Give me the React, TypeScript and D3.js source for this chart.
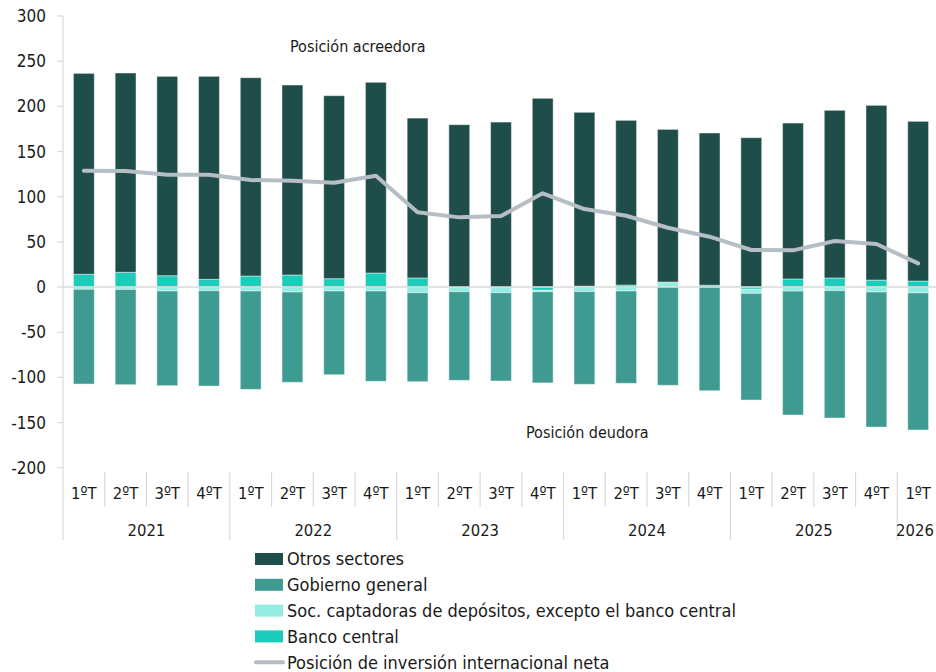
import React from "react";
import * as d3 from "d3";

const quarters = ["1ºT","2ºT","3ºT","4ºT","1ºT","2ºT","3ºT","4ºT","1ºT","2ºT","3ºT","4ºT","1ºT","2ºT","3ºT","4ºT","1ºT","2ºT","3ºT","4ºT","1ºT"];
const years = ["2021","2022","2023","2024","2025","2026"];
const yearSpans = [4, 4, 4, 4, 4, 1];

const otros = [222.4, 220.6, 220.7, 224.7, 219.5, 210.3, 202.6, 211.1, 177, 179.7, 182.6, 208.9, 192.4, 182.3, 169, 168.5, 165.3, 172.6, 185.6, 193.4, 176.8];
const gobierno = [-104.9, -105.4, -104.8, -105.5, -108.9, -100, -92.7, -100, -98.5, -98.1, -97.7, -100.9, -102.7, -102.2, -108.8, -114.8, -118.1, -137.2, -141, -149.5, -151.8];
const soc = [-2.5, -2.7, -4.4, -4.1, -4.4, -5.5, -4.4, -4.4, -6.3, -5.2, -6.3, -1.5, -5, -4.4, 5.5, 0, -4.5, -4.5, -4, -5.5, -6.5];
const banco = [14.1, 16.3, 12.5, 8.5, 12.2, 13.3, 9.2, 15.5, 10, 0, 0, -3.7, 1, 2.2, 0, 2, -2.5, 8.9, 10, 7.7, 6.6];
const piin = [128.7, 128.4, 124.3, 124.3, 118.4, 117.7, 115.5, 123.2, 82.7, 77.1, 78.6, 103.7, 86.3, 78.9, 65.6, 55.7, 41, 40.6, 50.9, 47.6, 26.2];
const yTicks = [-200, -150, -100, -50, 0, 50, 100, 150, 200, 250, 300];

const colors: Record<string, string> = {
  otros: "#1f4d4a",
  gobierno: "#3f9b91",
  soc: "#93ede3",
  banco: "#1ccbb9",
};
const lineColor = "#b5bdc5";
const legendItems = [
  { key: "otros", label: "Otros sectores" },
  { key: "gobierno", label: "Gobierno general" },
  { key: "soc", label: "Soc. captadoras de depósitos, excepto el banco central" },
  { key: "banco", label: "Banco central" },
  { key: "line", label: "Posición de inversión internacional neta" },
];

const FONT = "'Liberation Sans Narrow', 'DejaVu Sans Condensed', 'Roboto', sans-serif";

export default function App() {
  const W = 936, H = 672;
  const idx = quarters.map((_, i) => i);
  const x = d3.scaleBand<number>().domain(idx).range([63, 939]).paddingInner(0).paddingOuter(0);
  const y = d3.scaleLinear().domain([-200, 300]).range([467.7, 16]);
  const bw = x.bandwidth() * 0.5;

  const table = idx.map((i) => ({ i, banco: banco[i], soc: soc[i], gobierno: gobierno[i], otros: otros[i] }));
  const keys = ["banco", "soc", "gobierno", "otros"];
  const stacked = d3.stack<any>().keys(keys).offset(d3.stackOffsetDiverging)(table);

  const line = d3.line<number>()
    .x((i) => (x(i) as number) + x.bandwidth() / 2)
    .y((i) => y(piin[i]));

  const yearBounds: number[] = [0];
  let acc = 0;
  yearSpans.forEach((s) => { acc += s; yearBounds.push(acc); });
  const step = x.step();
  const bx = (k: number) => 63 + k * step;

  return (
    <svg width={W} height={H} style={{ position: "absolute", left: 0, top: 0, fontFamily: FONT }}>
      <rect width={W} height={H} fill="#fff" />
      <line x1={63} x2={63} y1={16} y2={540} stroke="#d9d9d9" strokeWidth={1.2} />
      {yTicks.map((t) => (
        <g key={t}>
          <line x1={57} x2={63} y1={y(t)} y2={y(t)} stroke="#d9d9d9" strokeWidth={1.2} />
          <text x={46} y={y(t)} dy="0.36em" textAnchor="end" fontSize={17} fill="#1a1a1a">{t}</text>
        </g>
      ))}
      {stacked.map((s) => (
        <g key={s.key} fill={colors[s.key]}>
          {s.map((d, i) => {
            const y0 = y(d[0]), y1 = y(d[1]);
            const h = Math.abs(y0 - y1);
            if (h < 0.01) return null;
            return (
              <rect key={i} x={(x(i) as number) + (x.bandwidth() - bw) / 2} y={Math.min(y0, y1)} width={bw} height={h}
                stroke="rgba(255,255,255,0.45)" strokeWidth={1} />
            );
          })}
        </g>
      ))}
      <line x1={63} x2={W} y1={y(0)} y2={y(0)} stroke="#d9d9d9" strokeWidth={1.5} />
      <path d={line(idx) || ""} fill="none" stroke={lineColor} strokeWidth={4} strokeLinejoin="round" strokeLinecap="round" />
      <text x={290} y={52} fontSize={16} fill="#1a1a1a">Posición acreedora</text>
      <text x={526} y={438} fontSize={16} fill="#1a1a1a">Posición deudora</text>
      {idx.map((i) => (
        <g key={i}>
          {i > 0 && !yearBounds.includes(i) && (
            <line x1={bx(i)} x2={bx(i)} y1={472} y2={507} stroke="#d9d9d9" strokeWidth={1.2} />
          )}
          <text x={(x(i) as number) + x.bandwidth() / 2} y={499} textAnchor="middle" fontSize={16.5} fill="#1a1a1a">{quarters[i]}</text>
        </g>
      ))}
      {yearBounds.slice(1, -1).map((b, k) => (
        <line key={k} x1={bx(b)} x2={bx(b)} y1={472} y2={540} stroke="#d9d9d9" strokeWidth={1.2} />
      ))}
      {years.map((yr, k) => (
        <text key={yr} x={Math.min((bx(yearBounds[k]) + bx(yearBounds[k + 1])) / 2, 915)} y={536} textAnchor="middle" fontSize={16.5} fill="#1a1a1a">{yr}</text>
      ))}
      {legendItems.map((it, k) => {
        const cy = 559 + k * 25.8;
        return (
          <g key={it.key}>
            {it.key === "line" ? (
              <line x1={256} x2={283} y1={cy} y2={cy} stroke={lineColor} strokeWidth={4} strokeLinecap="round" />
            ) : (
              <rect x={255} y={cy - 6} width={28} height={12} fill={colors[it.key]} />
            )}
            <text x={287} y={cy} dy="0.36em" fontSize={18} fill="#1a1a1a">{it.label}</text>
          </g>
        );
      })}
    </svg>
  );
}
